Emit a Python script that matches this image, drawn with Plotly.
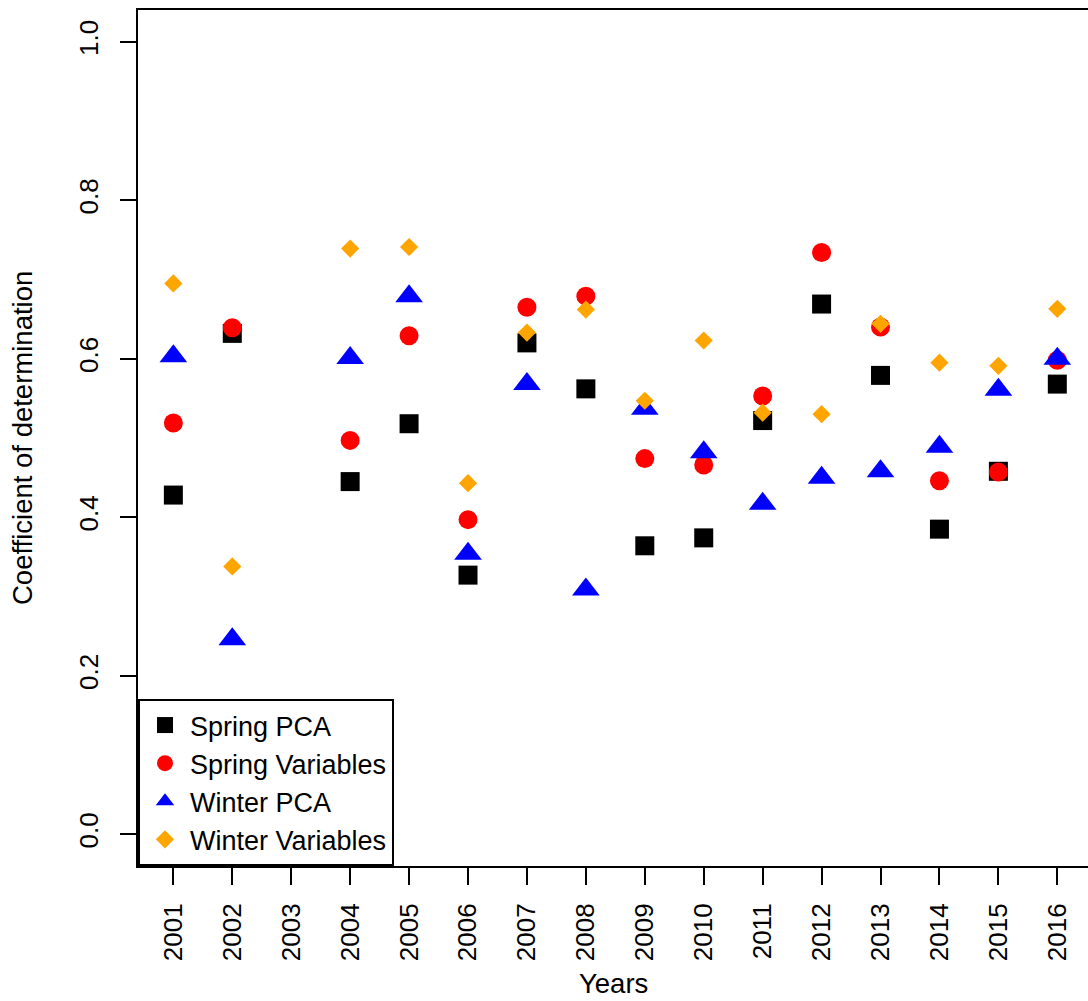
import plotly.graph_objects as go

years = [2001, 2002, 2004, 2005, 2006, 2007, 2008, 2009, 2010, 2011, 2012, 2013, 2014, 2015, 2016]
tick_years = list(range(2001, 2017))
tick_labels = [str(y) for y in tick_years]

spring_pca = [0.428, 0.632, 0.445, 0.518, 0.327, 0.620, 0.562, 0.364, 0.374, 0.522, 0.669, 0.579, 0.385, 0.458, 0.568]
spring_var = [0.519, 0.639, 0.497, 0.629, 0.397, 0.665, 0.679, 0.474, 0.466, 0.553, 0.734, 0.640, 0.446, 0.457, 0.598]
winter_pca = [0.603, 0.246, 0.601, 0.679, 0.354, 0.568, 0.309, 0.537, 0.482, 0.417, 0.450, 0.458, 0.489, 0.561, 0.600]
winter_var = [0.695, 0.338, 0.739, 0.741, 0.443, 0.633, 0.662, 0.547, 0.623, 0.532, 0.530, 0.644, 0.595, 0.591, 0.663]

y_ticks = [0.0, 0.2, 0.4, 0.6, 0.8, 1.0]

FONT = "Liberation Sans, Arial, sans-serif"
FS = 26
FS_TITLE = 27.5
FS_LEG = 27

series = [
    ("Spring PCA", spring_pca, "square", "#000000", 19),
    ("Spring Variables", spring_var, "circle", "#FF0000", 19),
    ("Winter PCA", winter_pca, "triangle-up", "#0000FF", 24),
    ("Winter Variables", winter_var, "diamond", "#FFA500", 14),
]

fig = go.Figure()
for name, vals, sym, col, sz in series:
    fig.add_trace(go.Scatter(
        x=years, y=vals, mode="markers", name=name,
        marker=dict(symbol=sym, color=col, size=sz, line=dict(width=0)),
    ))

px_per_year = 58.93
x0 = 2000.4
x1 = x0 + 950 / px_per_year

fig.update_layout(
    width=1088, height=1001,
    margin=dict(l=138, r=0, t=10, b=135, pad=0),
    plot_bgcolor="white", paper_bgcolor="white",
    font=dict(family=FONT, size=FS, color="#000000"),
    showlegend=True,
    legend=dict(
        x=0, y=0, xanchor="left", yanchor="bottom",
        bgcolor="white", bordercolor="black", borderwidth=2,
        font=dict(family=FONT, size=FS_LEG, color="#000000"),
        itemwidth=40, tracegroupgap=0,
    ),
    xaxis=dict(
        range=[x0, x1], showgrid=False, zeroline=False,
        showline=True, linecolor="black", linewidth=2, mirror=True,
        ticks="outside", ticklen=17, tickwidth=2, tickcolor="black",
        tickmode="array", tickvals=tick_years, ticktext=tick_labels,
        tickangle=-90, tickfont=dict(family=FONT, size=FS),
        ticklabelstandoff=8,
        automargin=False,
    ),
    yaxis=dict(
        range=[-0.04, 1.04], showgrid=False, zeroline=False,
        showline=True, linecolor="black", linewidth=2, mirror=False,
        ticks="outside", ticklen=16, tickwidth=2, tickcolor="black",
        tickmode="array", tickvals=y_ticks, ticktext=[f"{v:.1f}" for v in y_ticks],
        tickangle=-90, tickfont=dict(family=FONT, size=FS),
        ticklabelstandoff=12,
        automargin=False,
    ),
    annotations=[
        dict(text="Years", xref="paper", yref="paper", x=0.5, y=-0.1367,
             xanchor="center", yanchor="middle", showarrow=False,
             font=dict(family=FONT, size=FS_TITLE)),
        dict(text="Coefficient of determination", xref="paper", yref="paper",
             x=-0.1221, y=0.5, xanchor="center", yanchor="middle",
             textangle=-90, showarrow=False, font=dict(family=FONT, size=FS_TITLE)),
    ],
)

fig.write_html("out.html")
